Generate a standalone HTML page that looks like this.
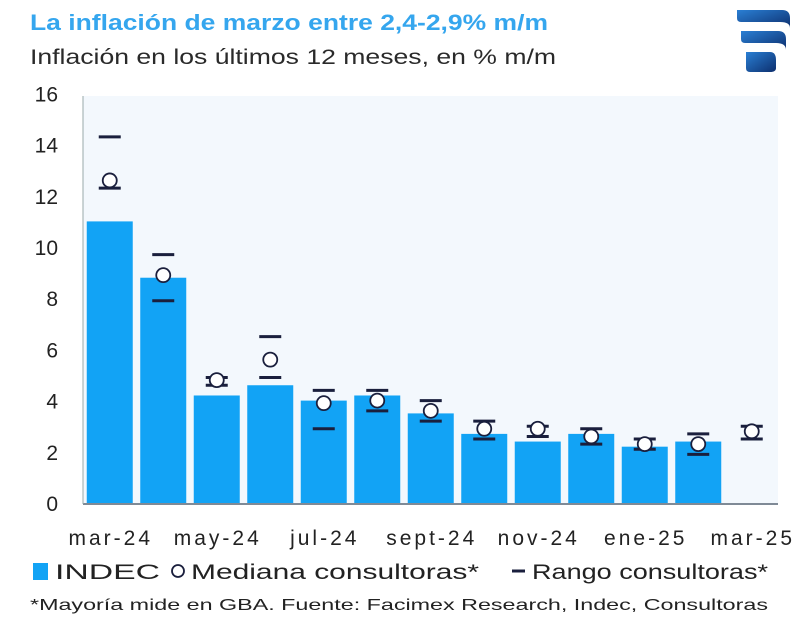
<!DOCTYPE html>
<html><head><meta charset="utf-8"><style>
body{margin:0;width:800px;height:638px;background:#fff;font-family:"Liberation Sans",sans-serif;overflow:hidden}
</style></head><body>
<svg width="800" height="638" xmlns="http://www.w3.org/2000/svg">
<text x="30" y="30" font-size="22" font-weight="bold" fill="#35a6ee" textLength="518" lengthAdjust="spacingAndGlyphs">La inflación de marzo entre 2,4-2,9% m/m</text>
<text x="30" y="64" font-size="21" fill="#2a2a2a" textLength="526" lengthAdjust="spacingAndGlyphs">Inflación en los últimos 12 meses, en % m/m</text>
<g>
<defs><linearGradient id="lg" x1="0" y1="0" x2="1" y2="1"><stop offset="0" stop-color="#2a7fd4"/><stop offset="1" stop-color="#0d2f6e"/></linearGradient></defs>
<path d="M737 10 H782 Q790 10 790 18 V28 Q790 22 780 22 H741 Q737 22 737 18 Z" fill="url(#lg)"/>
<path d="M741 31 H778 Q786 31 786 39 V50 Q786 43 776 43 H745 Q741 43 741 39 Z" fill="url(#lg)"/>
<path d="M746 52 H770 Q776 52 776 60 V68 Q776 72 770 72 H750 Q746 72 746 68 Z" fill="url(#lg)"/>
</g>
<rect x="83" y="96" width="695" height="408" fill="#f3f8fd"/>
<g id="yaxis"></g>
<g id="marks"></g>
<line x1="83" y1="504" x2="778" y2="504" stroke="#7f8a96" stroke-width="2"/>
<line x1="83" y1="96" x2="83" y2="504" stroke="#9aa" stroke-width="1"/>
<g id="xaxis"></g>
<g>
<rect x="33" y="563" width="15" height="17" fill="#12a3f5"/>
<text x="55" y="579" font-size="21" fill="#222" textLength="105" lengthAdjust="spacingAndGlyphs">INDEC</text>
<circle cx="178" cy="571" r="6" fill="#fff" stroke="#1a1f3d" stroke-width="1.8"/>
<text x="191" y="579" font-size="21" fill="#222" textLength="288" lengthAdjust="spacingAndGlyphs">Mediana consultoras*</text>
<line x1="512" y1="571" x2="525" y2="571" stroke="#1a1f3d" stroke-width="3"/>
<text x="532" y="579" font-size="21" fill="#222" textLength="236" lengthAdjust="spacingAndGlyphs">Rango consultoras*</text>
</g>
<text x="30" y="610" font-size="16" fill="#222" textLength="738" lengthAdjust="spacingAndGlyphs">*Mayoría mide en GBA. Fuente: Facimex Research, Indec, Consultoras</text>
</svg>
<script>
const categories=["mar-24","abr-24","may-24","jun-24","jul-24","ago-24","sept-24","oct-24","nov-24","dic-24","ene-25","feb-25","mar-25"];
const indec=[11.0,8.8,4.2,4.6,4.0,4.2,3.5,2.7,2.4,2.7,2.2,2.4,null];
const mediana=[12.6,8.9,4.8,5.6,3.9,4.0,3.6,2.9,2.9,2.6,2.3,2.3,2.8];
const rangoMax=[14.3,9.7,4.9,6.5,4.4,4.4,4.0,3.2,3.0,2.9,2.5,2.7,3.0];
const rangoMin=[12.3,7.9,4.6,4.9,2.9,3.6,3.2,2.5,2.6,2.3,2.1,1.9,2.5];
const yTicks=[0,2,4,6,8,10,12,14,16];
const NS="http://www.w3.org/2000/svg";
const x0=83,slot=53.5,bw=46;
const y=v=>503-v*25.6;
const xc=i=>x0+slot*i+slot/2;
function mk(t,a,p){const e=document.createElementNS(NS,t);for(const k in a)e.setAttribute(k,a[k]);p.appendChild(e);return e;}
const ya=document.getElementById('yaxis'),m=document.getElementById('marks'),xa=document.getElementById('xaxis');
yTicks.forEach(t=>{const e=mk('text',{x:58,y:y(t)+8,'font-size':21,fill:'#222','text-anchor':'end'},ya);e.textContent=t;

});
categories.forEach((c,i)=>{
 if(i%2===0){const e=mk('text',{x:xc(i)+1,y:545,'font-size':21,fill:'#222','text-anchor':'middle','letter-spacing':3},xa);e.textContent=c;
 
 }
 if(indec[i]!=null){const b=mk('rect',{x:xc(i)-bw/2,y:y(indec[i]),width:bw,height:y(0)-y(indec[i]),fill:'#12a3f5'},m);
 
 }
 [rangoMax[i],rangoMin[i]].forEach(v=>{const l=mk('line',{x1:xc(i)-11,x2:xc(i)+11,y1:y(v),y2:y(v),stroke:'#1a1f3d','stroke-width':3},m);
 
 });
 const ci=mk('circle',{cx:xc(i),cy:y(mediana[i]),r:7,fill:'#fff',stroke:'#1a1f3d','stroke-width':1.8},m);
 
 
});
</script>
</body></html>
